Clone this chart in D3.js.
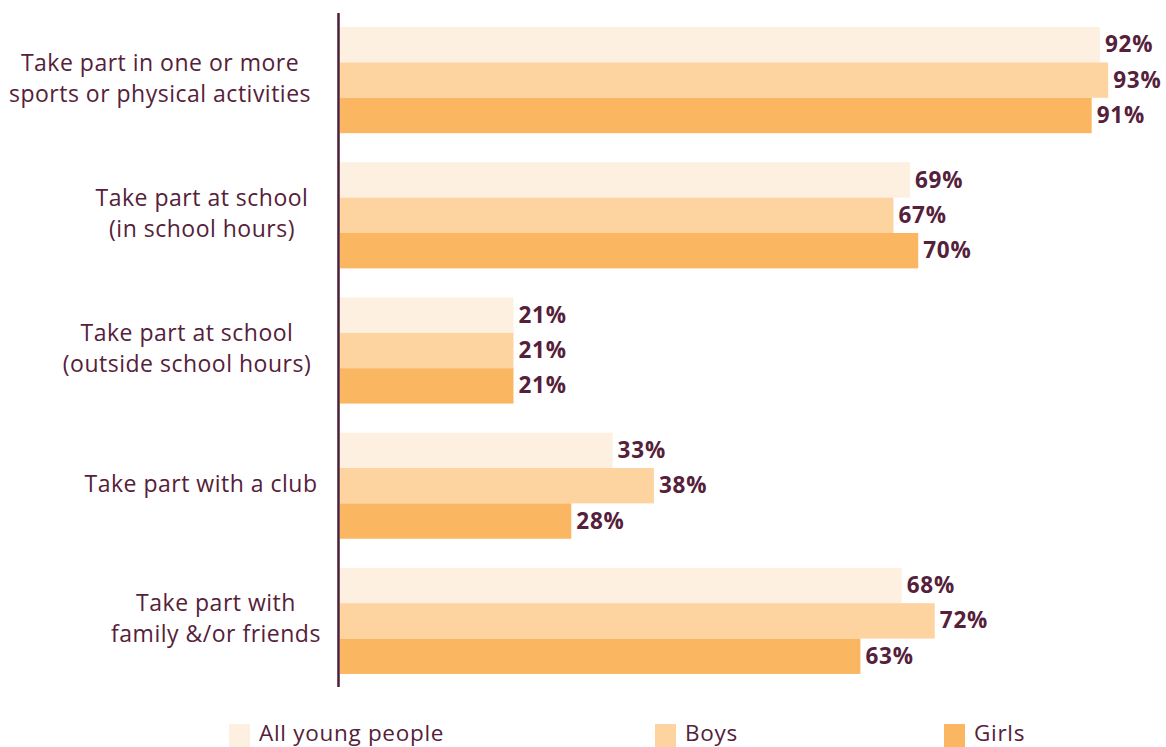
<!DOCTYPE html>
<html>
<head>
<meta charset="utf-8">
<script src="https://cdn.jsdelivr.net/npm/d3@7"></script>
<style>
  html, body { margin: 0; padding: 0; background: #fff; }
  svg { display: block; }
</style>
</head>
<body>
<svg id="chart" width="1166" height="747"></svg>
<script>
// Participation in sport, by setting
const categories = [
  ["Take part in one or more", "sports or physical activities"],
  ["Take part at school", "(in school hours)"],
  ["Take part at school", "(outside school hours)"],
  ["Take part with a club"],
  ["Take part with", "family &/or friends"]
];
const seriesNames = ["All young people", "Boys", "Girls"];
const allYoungPeople = [92, 69, 21, 33, 68];
const boys = [93, 67, 21, 38, 72];
const girls = [91, 70, 21, 28, 63];

const seriesValues = [allYoungPeople, boys, girls];
const colors = ["#fdf0e1", "#fdd3a0", "#fbb661"];
const textColor = "#55213a";
const labelCenters = [160, 202, 187, 201, 216];

const svg = d3.select("#chart");
const x = d3.scaleLinear().domain([0, 100]).range([340, 1166]);
const y0 = d3.scaleBand()
  .domain(d3.range(categories.length))
  .range([12.5, 688.5])
  .paddingInner(0.215)
  .paddingOuter(0.1075);
const y1 = d3.scaleBand()
  .domain(d3.range(seriesNames.length))
  .range([0, y0.bandwidth()]);

const groups = svg.selectAll("g.group")
  .data(categories)
  .join("g")
  .attr("class", "group")
  .attr("transform", (d, i) => `translate(0,${y0(i)})`);

groups.each(function(cat, ci) {
  const g = d3.select(this);
  const rows = seriesValues.map((vals, si) => ({ si, v: vals[ci] }));
  g.selectAll("rect")
    .data(rows)
    .join("rect")
    .attr("x", x(0))
    .attr("y", d => y1(d.si))
    .attr("width", d => x(d.v) - x(0))
    .attr("height", y1.bandwidth())
    .attr("fill", d => colors[d.si]);
  g.selectAll("text.val")
    .data(rows)
    .join("text")
    .attr("class", "val")
    .attr("x", d => x(d.v) + 5)
    .attr("y", d => y1(d.si) + y1.bandwidth() / 2 - 0.5)
    .attr("dy", "0.36em")
    .attr("font-family", "'Open Sans', sans-serif")
    .attr("font-weight", 700)
    .attr("font-size", 22.5)
    .attr("letter-spacing", 0.8)
    .attr("fill", textColor)
    .text(d => d.v + "%");

  // category label
  const lines = cat;
  const cy = y0.bandwidth() / 2 - 2;
  const lh = 31;
  g.append("text")
    .attr("text-anchor", "middle")
    .attr("font-family", "'Open Sans', sans-serif")
    .attr("font-size", 23)
    .attr("letter-spacing", 0.5)
    .attr("fill", textColor)
    .selectAll("tspan")
    .data(lines)
    .join("tspan")
    .attr("x", labelCenters[ci])
    .attr("y", (d, i) => cy + (i - (lines.length - 1) / 2) * lh)
    .attr("dy", "0.35em")
    .text(d => d);
});

// vertical axis line
svg.append("line")
  .attr("x1", 338.5).attr("x2", 338.5)
  .attr("y1", 13).attr("y2", 687)
  .attr("stroke", "#4a1f33")
  .attr("stroke-width", 2.5);

// legend
const legendX = [229, 655, 944];
const legend = svg.selectAll("g.legend")
  .data(seriesNames)
  .join("g")
  .attr("class", "legend")
  .attr("transform", (d, i) => `translate(${legendX[i]},724)`);
legend.append("rect")
  .attr("width", 21).attr("height", 24)
  .attr("fill", (d, i) => colors[i]);
legend.append("text")
  .attr("x", 30)
  .attr("y", 17)
  .attr("font-family", "'Open Sans', sans-serif")
  .attr("font-size", 22.5)
  .attr("letter-spacing", 0.7)
  .attr("fill", textColor)
  .text(d => d);
</script>
</body>
</html>
